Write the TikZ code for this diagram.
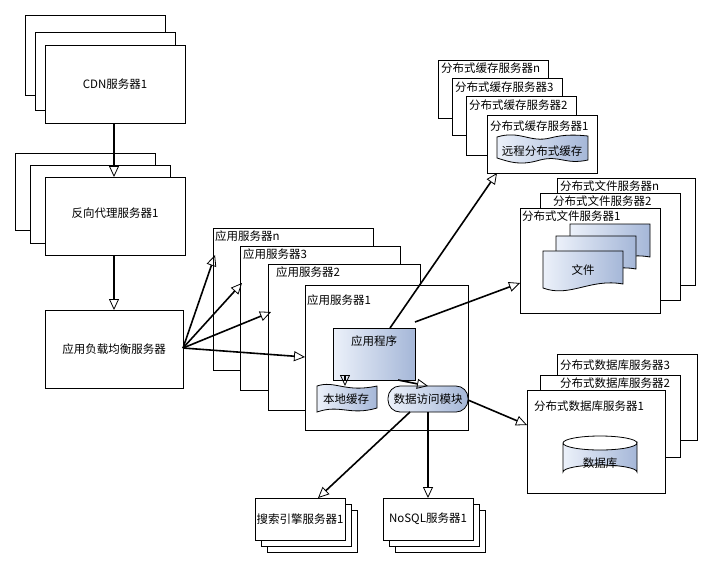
\documentclass[tikz,border=0pt]{standalone}
\usepackage{fontspec}
\setmainfont{Noto Sans CJK SC}
\usetikzlibrary{arrows.meta,shapes.geometric}
\definecolor{gA}{RGB}{236,241,250}
\definecolor{gB}{RGB}{165,183,216}
\begin{document}
\begin{tikzpicture}[x=1pt,y=-1pt,
  box/.style={draw,fill=white,line width=0.8pt},
  lbl/.style={font=\fontsize{11.5}{13}\selectfont,inner sep=1pt},
  arr/.style={line width=1.6pt,-{Triangle[open,length=11pt,width=10pt,line width=0.8pt]}},
  gfill/.style={draw,line width=0.8pt,left color=gA,right color=gB}]
\useasboundingbox (0,0) rectangle (711,571);
% CDN
\draw[box] (25,15) rectangle (165,95);
\draw[box] (35,32) rectangle (175,110);
\draw[box] (45,45) rectangle (185,123);
\node[lbl] (cdn) at (115,84) {CDN服务器1};
\coordinate (cdnb) at (114,123);
% proxy
\draw[box] (15,153) rectangle (155,230);
\draw[box] (30,165) rectangle (170,243);
\draw[box] (45,177) rectangle (185,255);
\node[lbl] (rp) at (115,213) {反向代理服务器1};
\coordinate (rpt) at (114,177); \coordinate (rpb) at (114,255);
% LB
\draw[box] (45,310) rectangle (183,388);
\node[lbl] (lb) at (114,349) {应用负载均衡服务器};
\coordinate (lbt) at (114,310); \coordinate (lbr) at (183,348);
\draw[arr] (cdnb) -- (rpt);
\draw[arr] (rpb) -- (lbt);
% app servers
\draw[box] (213,228) rectangle (373,370);
\node[lbl,anchor=west] (asn) at (214,236) {应用服务器n};
\draw[box] (240,246) rectangle (400,390);
\node[lbl,anchor=west] (as3) at (242,254) {应用服务器3};
\draw[box] (268,264) rectangle (420,410);
\node[lbl,anchor=west] (as2) at (275,272) {应用服务器2};
\draw[box] (305,285) rectangle (468,430);
\node[lbl,anchor=west] (as1) at (306,300) {应用服务器1};
\coordinate (tn) at (215,255); \coordinate (t3) at (242,283);
\coordinate (t2) at (271,312); \coordinate (t1) at (305,357);
\foreach \t in {tn,t3,t2,t1} \draw[arr] (lbr) -- (\t);
% cache servers
\draw[box] (438,60) rectangle (548,118);
\node[lbl,anchor=west] (csn) at (440,68) {分布式缓存服务器n};
\draw[box] (452,78) rectangle (562,135);
\node[lbl,anchor=west] (cs3) at (454,87) {分布式缓存服务器3};
\draw[box] (466,96) rectangle (576,155);
\node[lbl,anchor=west] (cs2) at (468,105) {分布式缓存服务器2};
\draw[box] (487,115) rectangle (597,173);
\node[lbl,anchor=west] (cs1) at (489,126) {分布式缓存服务器1};
\draw[gfill] (497,137) .. controls (520,130) and (530,143) .. (550,138) .. controls (565,134) and (578,135) .. (588,136) -- (588,160) .. controls (565,165) and (560,155) .. (540,160) .. controls (520,166) and (510,162) .. (497,158) -- cycle;
\node[lbl] (rc) at (542,151) {远程分布式缓存};
% file servers
\draw[box] (557,178) rectangle (695,285);
\node[lbl,anchor=west] (fsn) at (559,186) {分布式文件服务器n};
\draw[box] (540,193) rectangle (680,300);
\node[lbl,anchor=west] (fs2) at (552,201) {分布式文件服务器2};
\draw[box] (520,208) rectangle (660,313);
\node[lbl,anchor=west] (fs1) at (521,216) {分布式文件服务器1};
\foreach \dx/\dy in {27/-27,13/-15,0/0} {
 \draw[gfill] (543+\dx,251+\dy) -- (623+\dx,251+\dy) -- (623+\dx,284+\dy) .. controls (590+\dx,278+\dy) and (570+\dx,298+\dy) .. (543+\dx,288+\dy) -- cycle;
}
\node[lbl] (file) at (583,270) {文件};
% db servers
\draw[box] (557,354) rectangle (697,440);
\node[lbl,anchor=west] (dsn) at (559,365) {分布式数据库服务器3};
\draw[box] (540,375) rectangle (680,457);
\node[lbl,anchor=west] (ds2) at (559,383) {分布式数据库服务器2};
\draw[box] (527,390) rectangle (665,493);
\node[lbl,anchor=west] (ds1) at (533,406) {分布式数据库服务器1};
\draw[gfill] (563,443) -- (563,472) arc[start angle=180,end angle=360,x radius=37,y radius=7] -- (637,443) arc[start angle=0,end angle=180,x radius=37,y radius=7];
\draw[line width=0.8pt] (563,443) arc[start angle=180,end angle=360,x radius=37,y radius=7];
\node[lbl] (db) at (600,463) {数据库};
% inner app
\draw[gfill] (333,328) rectangle (415,380);
\node[lbl] (ap) at (374,341) {应用程序};
\draw[gfill] (317,386) .. controls (335,380) and (345,393) .. (377,386) -- (377,408) .. controls (350,416) and (340,404) .. (317,412) -- cycle;
\node[lbl] (lc) at (346,399) {本地缓存};
\draw[gfill,rounded corners=12pt] (388,386) rectangle (468,412);
\node[lbl] (da) at (428,399) {数据访问模块};
% search / nosql
\foreach \d in {12,6,0} \draw[box] (255+\d,498+\d) rectangle (345+\d,540+\d);
\node[lbl] (se) at (300,519) {搜索引擎服务器1};
\foreach \d in {12,6,0} \draw[box] (383+\d,498+\d) rectangle (473+\d,540+\d);
\node[lbl] (ns) at (428,519) {NoSQL服务器1};
% app arrows
\draw[arr] (390,328) -- (497,173);
\draw[arr] (415,322) -- (520,283);
\draw[arr] (345,380) -- (345,386);
\draw[arr] (398,380) -- (428,386);
\draw[arr] (468,400) -- (527,425);
\draw[arr] (410,412) -- (318,498);
\draw[arr] (428,412) -- (428,498);
\end{tikzpicture}
\end{document}
